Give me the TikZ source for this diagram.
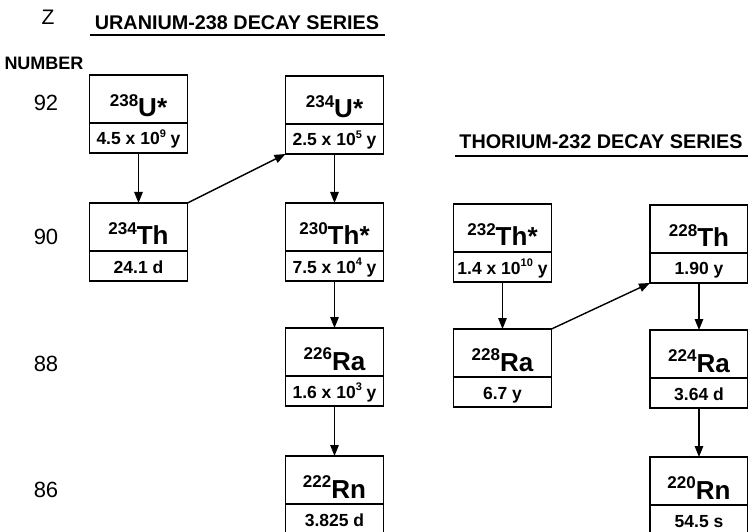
\documentclass[tikz,border=0pt]{standalone}
\usepackage{fontspec}
\setmainfont{Liberation Sans}
\usetikzlibrary{arrows.meta}
\newcommand\isotope[2]{\raisebox{0.42em}{\fontsize{17}{17}\selectfont #1}#2}
\newcommand\hsup[1]{\raisebox{0.42em}{\fontsize{11}{11}\selectfont #1}}
\tikzset{
  box/.style={draw, line width=1.6pt, minimum width=98pt, inner sep=0pt, outer sep=0pt, anchor=north},
  nuc/.style={box, minimum height=48pt, text height=42pt, text depth=6pt, font=\bfseries\fontsize{26}{26}\selectfont},
  life/.style={box, minimum height=30pt, text height=22pt, text depth=8pt, font=\bfseries\fontsize{17.5}{18}\selectfont},
  arr/.style={-{Triangle[length=11pt,width=8.5pt]}, line width=1.4pt},
  znum/.style={font=\fontsize{22}{22}\selectfont},
  ttl/.style={font=\bfseries\fontsize{19.8}{20}\selectfont, anchor=base}
}
\begin{document}
\begin{tikzpicture}[x=1pt,y=-1pt]
\useasboundingbox (0,0) rectangle (748,532);
% headings
\node[font=\fontsize{21}{21}\selectfont] (zlab) at (48,17) {Z};
\node[ttl] (utitle) at (237,29.5) {URANIUM-238 DECAY SERIES};
\draw[line width=1.6pt] (90,35) coordinate (ul1) -- (385,35) coordinate (ul2);
\node[font=\bfseries\fontsize{18}{18}\selectfont] (numlab) at (44,63) {NUMBER};
\node[ttl] (ttitle) at (601,149) {THORIUM-232 DECAY SERIES};
\draw[line width=1.6pt] (455,156) coordinate (tl1) -- (750,156) coordinate (tl2);
\node[znum] (z92) at (46,103) {92};
\node[znum] (z90) at (46,237) {90};
\node[znum] (z88) at (46,364) {88};
\node[znum] (z86) at (46,490) {86};
% uranium series
\node[nuc] (u238) at (138.5,75) {\isotope{238}{U*}};
\node[life] (u238h) at (u238.south) {4.5 x 10\hsup{9} y};
\node[nuc] (th234) at (138.5,203) {\isotope{234}{Th}};
\node[life] (th234h) at (th234.south) {24.1 d};
\node[nuc] (u234) at (334.5,76) {\isotope{234}{U*}};
\node[life] (u234h) at (u234.south) {2.5 x 10\hsup{5} y};
\node[nuc] (th230) at (334.5,203) {\isotope{230}{Th*}};
\node[life] (th230h) at (th230.south) {7.5 x 10\hsup{4} y};
\node[nuc] (ra226) at (334.5,328) {\isotope{226}{Ra}};
\node[life] (ra226h) at (ra226.south) {1.6 x 10\hsup{3} y};
\node[nuc] (rn222) at (334.5,456) {\isotope{222}{Rn}};
\node[life] (rn222h) at (rn222.south) {3.825 d};
% thorium series
\node[nuc] (th232) at (502.5,204) {\isotope{232}{Th*}};
\node[life] (th232h) at (th232.south) {1.4 x 10\hsup{10} y};
\node[nuc] (th228) at (699,205) {\isotope{228}{Th}};
\node[life] (th228h) at (th228.south) {1.90 y};
\node[nuc] (ra228) at (502.5,329) {\isotope{228}{Ra}};
\node[life] (ra228h) at (ra228.south) {6.7 y};
\node[nuc] (ra224) at (699,330) {\isotope{224}{Ra}};
\node[life] (ra224h) at (ra224.south) {3.64 d};
\node[nuc] (rn220) at (699,457) {\isotope{220}{Rn}};
\node[life] (rn220h) at (rn220.south) {54.5 s};
% connectors
\draw[arr] (u238h.south) -- (th234.north);
\draw[arr] (th234.north east) -- (u234h.south west);
\draw[arr] (u234h.south) -- (th230.north);
\draw[arr] (th230h.south) -- (ra226.north);
\draw[arr] (ra226h.south) -- (rn222.north);
\draw[arr] (th232h.south) -- (ra228.north);
\draw[arr] (ra228.north east) -- (th228h.south west);
\draw[arr] (th228h.south) -- (ra224.north);
\draw[arr] (ra224h.south) -- (rn220.north);
\end{tikzpicture}
\end{document}
